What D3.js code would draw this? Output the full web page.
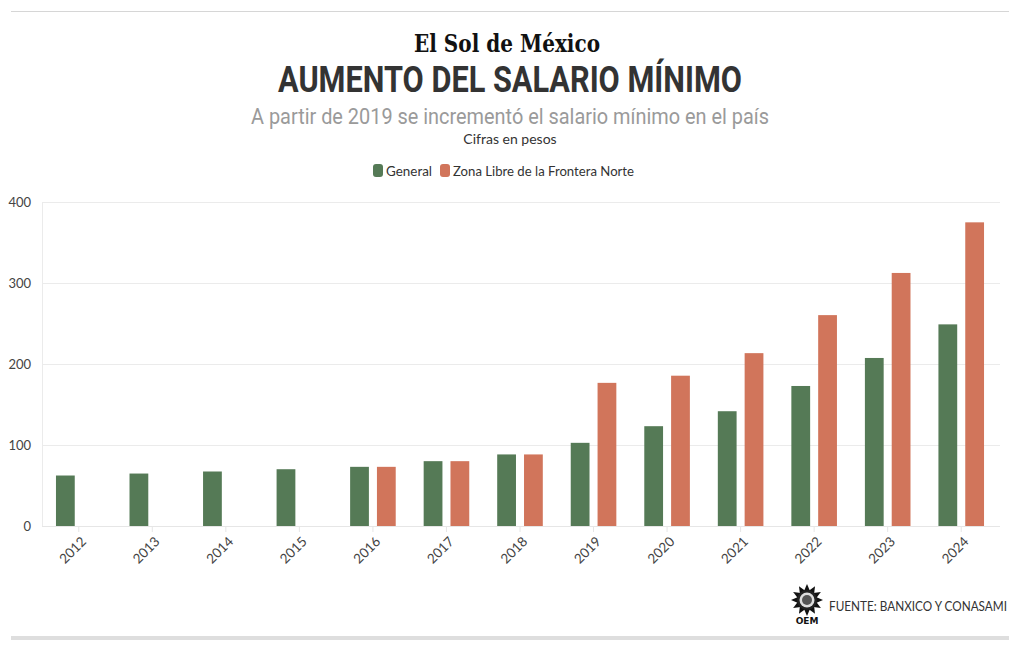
<!DOCTYPE html>
<html><head><meta charset="utf-8">
<script src="https://cdn.jsdelivr.net/npm/d3@7"></script>
<style>body{margin:0;background:#fff}svg{display:block}</style>
</head><body><svg id="c" width="1020" height="650"></svg>
<script>
const years = ["2012","2013","2014","2015","2016","2017","2018","2019","2020","2021","2022","2023","2024"];
const seriesNames = ["General","Zona Libre de la Frontera Norte"];
const generalValues = [62.33,64.76,67.29,70.10,73.04,80.04,88.36,102.68,123.22,141.70,172.87,207.44,248.93];
const fronteraValues = [null,null,null,null,73.04,80.04,88.36,176.72,185.56,213.39,260.34,312.41,374.89];
const yTicks = [0,100,200,300,400];
const colors = ["#557a56","#d1755b"];

const svg = d3.select("#c");
const font = "'Lato','Noto Sans',sans-serif";

// frame lines
svg.append("line").attr("x1",11).attr("x2",1009).attr("y1",11.5).attr("y2",11.5).attr("stroke","#d6d6d6");
svg.append("rect").attr("x",11).attr("y",636).attr("width",998).attr("height",4).attr("fill","#dedede");

// header
svg.append("text").attr("x",507).attr("y",52).attr("text-anchor","middle")
  .attr("font-family","'DejaVu Serif','Liberation Serif',serif").attr("font-weight","bold")
  .attr("font-size",25).attr("fill","#111").attr("textLength",186).attr("lengthAdjust","spacingAndGlyphs")
  .text("El Sol de México");
svg.append("text").attr("x",510).attr("y",92).attr("text-anchor","middle")
  .attr("font-family","Roboto,sans-serif").attr("font-weight","bold").attr("font-size",37)
  .attr("fill","#333").attr("textLength",464).attr("lengthAdjust","spacingAndGlyphs")
  .text("AUMENTO DEL SALARIO MÍNIMO");
svg.append("text").attr("x",510).attr("y",124).attr("text-anchor","middle")
  .attr("font-family","Roboto,sans-serif").attr("font-size",22).attr("fill","#9a9a9a")
  .attr("textLength",518).attr("lengthAdjust","spacingAndGlyphs")
  .text("A partir de 2019 se incrementó el salario mínimo en el país");
svg.append("text").attr("x",510).attr("y",144).attr("text-anchor","middle")
  .attr("font-family",font).attr("font-size",14).attr("fill","#333").text("Cifras en pesos");

// legend
const legendX = [373, 440];
const legendW = [46, 181];
seriesNames.forEach((s,i)=>{
  const g = svg.append("g").attr("transform",`translate(${legendX[i]},164)`);
  g.append("rect").attr("width",10).attr("height",13).attr("rx",3).attr("fill",colors[i]);
  g.append("text").attr("x",13).attr("y",11.5).attr("font-family",font).attr("font-size",13.5).attr("fill","#333")
    .attr("textLength",legendW[i]).attr("lengthAdjust","spacingAndGlyphs").text(s);
});

// scales
const x0 = d3.scaleBand().domain(years).range([42,998]).padding(0);
const bw = x0.bandwidth();
const x1 = d3.scaleBand().domain(seriesNames).range([bw*0.19, bw*0.81]).paddingInner(0.3).paddingOuter(0);
const y = d3.scaleLinear().domain([0,400]).range([526,202]);

// grid
svg.append("g").selectAll("line").data(yTicks).join("line")
  .attr("x1",42).attr("x2",1000).attr("y1",d=>Math.round(y(d))+0.5).attr("y2",d=>Math.round(y(d))+0.5)
  .attr("stroke","#ebebeb");
svg.append("line").attr("x1",42.5).attr("x2",42.5).attr("y1",202).attr("y2",526).attr("stroke","#ebebeb");

// y labels
const yAxis = svg.append("g").attr("transform","translate(36,0)")
  .call(d3.axisLeft(y).tickValues(yTicks).tickSize(0).tickPadding(5));
yAxis.select(".domain").remove();
yAxis.selectAll("text").attr("font-family",font).attr("font-size",13).attr("fill","#444").attr("dy","0.35em");

// bars
const data = years.map((yr,i)=>({year:yr, vals:[generalValues[i], fronteraValues[i]]}));
const groups = svg.append("g").selectAll("g").data(data).join("g")
  .attr("transform",d=>`translate(${x0(d.year)},0)`);
groups.selectAll("rect").data(d=>d.vals.map((v,i)=>({s:seriesNames[i],v,i})).filter(e=>e.v!=null)).join("rect")
  .attr("x",e=>x1(e.s)).attr("width",x1.bandwidth())
  .attr("y",e=>y(e.v)).attr("height",e=>y(0)-y(e.v)).attr("fill",e=>colors[e.i]);

// x axis
const xAxis = svg.append("g").attr("transform","translate(0,526)")
  .call(d3.axisBottom(x0).tickSize(6).tickPadding(4));
xAxis.select(".domain").attr("stroke","#e6e6e6").attr("d","M42,0.5H1000");
xAxis.selectAll(".tick line").attr("stroke","#e6e6e6");
xAxis.selectAll("text").attr("font-family",font).attr("font-size",13.5).attr("fill","#444")
  .attr("text-anchor","end").attr("x",0).attr("y",0).attr("dy","0.35em")
  .attr("transform","translate(5,13) rotate(-45)");

// source + OEM logo
const logo = svg.append("g").attr("transform","translate(807,600)");
const rays = d3.range(12);
logo.selectAll("path.r").data(rays).join("path").attr("class","r")
  .attr("d","M-3,-9 L0,-16 L3,-9 Z").attr("fill","#111")
  .attr("transform",d=>`rotate(${d*30})`);
logo.append("circle").attr("r",10).attr("fill","#222");
logo.append("circle").attr("r",7.5).attr("fill","#ddd");
logo.append("circle").attr("r",5).attr("fill","#555");
logo.append("text").attr("y",24).attr("text-anchor","middle").attr("font-family","'DejaVu Sans',sans-serif")
  .attr("font-weight","bold").attr("font-size",9).attr("fill","#111").text("OEM");
svg.append("text").attr("x",829).attr("y",611).attr("font-family",font).attr("font-size",12.5)
  .attr("fill","#333").attr("textLength",178).attr("lengthAdjust","spacingAndGlyphs").text("FUENTE: BANXICO Y CONASAMI");
</script></body></html>
